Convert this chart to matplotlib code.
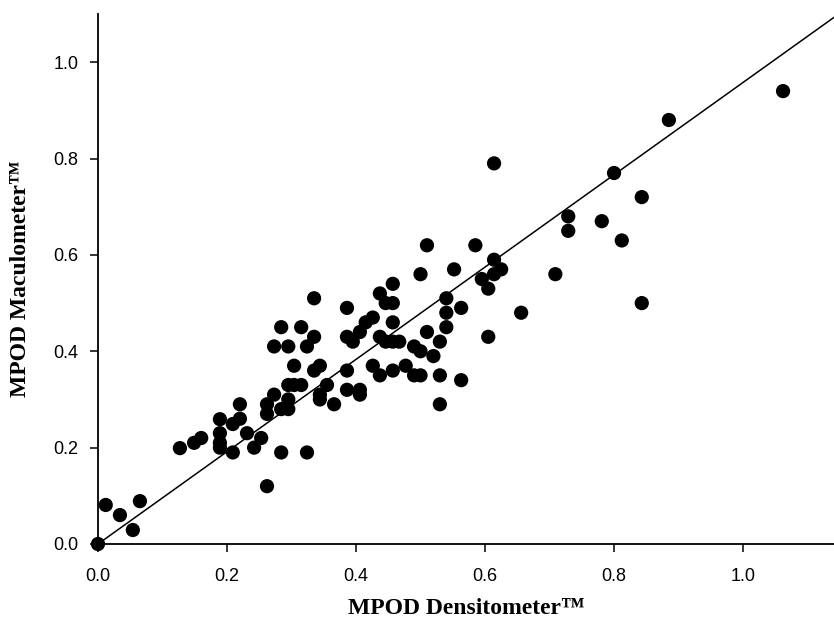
import matplotlib
matplotlib.use("Agg")
import matplotlib.pyplot as plt
import numpy as np

densitometer = [0.0, 0.012, 0.034, 0.054, 0.065, 0.127, 0.149, 0.16, 0.189, 0.189, 0.189, 0.189,
                0.209, 0.209, 0.22, 0.22, 0.231, 0.242, 0.253, 0.262, 0.262, 0.262, 0.273, 0.273,
                0.284, 0.284, 0.284, 0.295, 0.295, 0.295, 0.295, 0.304, 0.304, 0.315, 0.315, 0.324,
                0.324, 0.335, 0.335, 0.335, 0.344, 0.344, 0.344, 0.355, 0.366, 0.386, 0.386, 0.386,
                0.386, 0.395, 0.406, 0.406, 0.406, 0.415, 0.426, 0.426, 0.437, 0.437, 0.437, 0.446,
                0.446, 0.457, 0.457, 0.457, 0.457, 0.457, 0.467, 0.477, 0.49, 0.49, 0.50, 0.50,
                0.50, 0.51, 0.51, 0.52, 0.53, 0.53, 0.53, 0.54, 0.54, 0.54, 0.552, 0.563, 0.563,
                0.585, 0.595, 0.605, 0.605, 0.614, 0.614, 0.614, 0.625, 0.656, 0.709, 0.729, 0.729,
                0.781, 0.80, 0.812, 0.843, 0.843, 0.885, 1.062]
maculometer = [0.0, 0.081, 0.060, 0.029, 0.089, 0.199, 0.21, 0.22, 0.259, 0.23, 0.21, 0.20,
               0.249, 0.19, 0.29, 0.26, 0.23, 0.20, 0.22, 0.27, 0.29, 0.12, 0.41, 0.31,
               0.45, 0.28, 0.19, 0.41, 0.33, 0.30, 0.28, 0.37, 0.33, 0.45, 0.33, 0.41,
               0.19, 0.51, 0.43, 0.36, 0.37, 0.31, 0.30, 0.33, 0.29, 0.49, 0.43, 0.36,
               0.32, 0.42, 0.44, 0.32, 0.31, 0.46, 0.47, 0.37, 0.52, 0.43, 0.35, 0.50,
               0.42, 0.54, 0.50, 0.46, 0.42, 0.36, 0.42, 0.37, 0.41, 0.35, 0.56, 0.40,
               0.35, 0.62, 0.44, 0.39, 0.42, 0.35, 0.29, 0.51, 0.48, 0.45, 0.57, 0.49, 0.34,
               0.62, 0.55, 0.53, 0.43, 0.79, 0.59, 0.56, 0.57, 0.48, 0.56, 0.68, 0.65,
               0.67, 0.77, 0.63, 0.72, 0.50, 0.88, 0.94]

fit_x = [0.0, 1.141]
fit_y = [0.0, 1.093]

ticks = [0.0, 0.2, 0.4, 0.6, 0.8, 1.0]
tick_labels = ["0.0", "0.2", "0.4", "0.6", "0.8", "1.0"]

fig = plt.figure(figsize=(8.34, 6.32), dpi=100)
ax = fig.add_axes([98/834, 1-544/632, 1-98/834, (544-14)/632])

ax.plot(fit_x, fit_y, color="black", lw=1.1, zorder=2)
ax.scatter(densitometer, maculometer, s=105, color="black", zorder=3, clip_on=False,
           edgecolors="none")

ax.set_xlim(0, 1.141)
ax.set_ylim(0, 1.10)
ax.set_xticks(ticks)
ax.set_xticklabels(tick_labels)
ax.set_yticks(ticks)
ax.set_yticklabels(tick_labels)

for s in ["top", "right"]:
    ax.spines[s].set_visible(False)
for s in ["left", "bottom"]:
    ax.spines[s].set_linewidth(1.3)

ax.tick_params(direction="out", length=6, width=1.1, labelsize=13, pad=8)
ax.tick_params(axis="x", pad=11)
for lab in ax.get_xticklabels() + ax.get_yticklabels():
    lab.set_family("Liberation Sans")

ax.set_xlabel("MPOD Densitometer\u2122", fontfamily="Liberation Serif", fontweight="bold",
              fontsize=17, labelpad=10)
ax.set_ylabel("MPOD Maculometer\u2122", fontfamily="Liberation Serif", fontweight="bold",
              fontsize=17, labelpad=16)

fig.savefig("out.png", dpi=100)
